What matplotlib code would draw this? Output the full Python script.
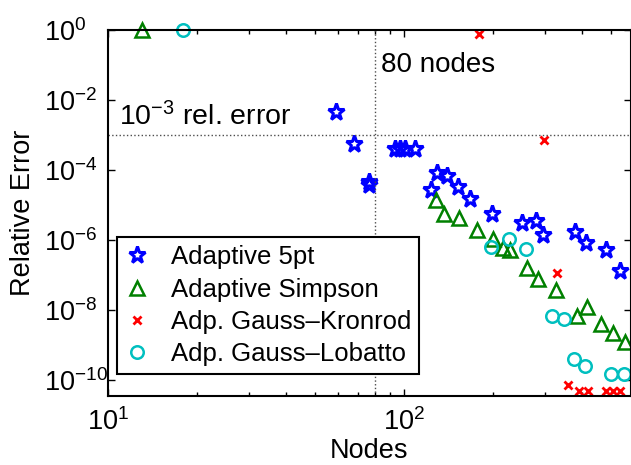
import matplotlib
matplotlib.use("Agg")
from matplotlib import pyplot as plt
from matplotlib.ticker import LogLocator, NullLocator, NullFormatter

plt.rcParams['font.family'] = ['Liberation Sans', 'DejaVu Sans']
plt.rcParams['mathtext.fontset'] = 'custom'
plt.rcParams['mathtext.rm'] = 'Liberation Sans'
plt.rcParams['mathtext.default'] = 'regular'

# values
star_x = [58.9, 67.9, 76, 76.5, 93.3, 96.9, 100.8, 108.9, 123.3, 128.9, 139.3, 152.5, 167,
          197.8, 249.8, 279.4, 294, 378.5, 412, 481, 537]
star_y = [4.5e-3, 5.4e-4, 3.6e-5, 4.4e-5, 3.85e-4, 3.85e-4, 3.85e-4, 3.85e-4, 2.7e-5, 8.3e-5,
          6.5e-5, 3.2e-5, 1.44e-5, 5.4e-6, 3.0e-6, 3.5e-6, 1.35e-6, 1.67e-6, 8.3e-7, 5.0e-7, 1.29e-7]

simp_x = [13.0, 128, 136.5, 153, 177, 200.3, 216.5, 228, 261, 284.5, 326.5, 383, 416, 465, 509, 558]
simp_y = [1.0, 1.35e-5, 5.6e-6, 4.1e-6, 1.95e-6, 1.08e-6, 6.0e-7, 5.0e-7, 1.6e-7, 7.8e-8,
          3.6e-8, 6.5e-9, 1.2e-8, 3.9e-9, 2.1e-9, 1.2e-9]

kron_x = [179.5, 297.8, 329.7, 359, 391, 419.5, 480, 507, 537]
kron_y = [0.74, 7.0e-4, 1.12e-7, 6.9e-11, 4.8e-11, 4.8e-11, 4.8e-11, 4.8e-11, 4.8e-11]

lob_x = [17.9, 196.4, 227, 258, 317.5, 347, 376, 408, 499, 553]
lob_y = [1.0, 6.2e-7, 1.02e-6, 5.6e-7, 6.5e-9, 5.4e-9, 3.9e-10, 2.5e-10, 1.5e-10, 1.44e-10]

labels = ['Adaptive 5pt', 'Adaptive Simpson', 'Adp. Gauss\u2013Kronrod', 'Adp. Gauss\u2013Lobatto']

fig = plt.figure(figsize=(6.31, 4.65), dpi=100)
ax = fig.add_axes([0.171, 0.148, 0.829, 0.788])

ax.plot(star_x, star_y, '*', ms=12.5, mfc='none', mec='b', mew=2.2, clip_on=False, label=labels[0])
ax.plot(simp_x, simp_y, '^', ms=10, mfc='none', mec=(0, 0.5, 0), mew=1.8, clip_on=False, label=labels[1])
ax.plot(kron_x, kron_y, 'x', ms=5.5, mec='r', mew=2, clip_on=False, label=labels[2])
ax.plot(lob_x, lob_y, 'o', ms=9, mfc='none', mec=(0, 0.75, 0.75), mew=1.8, clip_on=False, label=labels[3])

ax.axvline(80, color='0.3', ls=':', lw=1)
ax.axhline(1e-3, color='0.3', ls=':', lw=1)
ax.text(83.5, 1e-1, '80 nodes', fontsize=20, va='center')
ax.text(10.9, 3.2e-3, r'$10^{-3}$ rel. error', fontsize=20.5, va='center')

ax.set_xscale('log')
ax.set_yscale('log')
ax.set_xlim(10, 585)
ax.set_ylim(10 ** -10.47, 1)
ax.yaxis.set_major_locator(LogLocator(base=100))
ax.yaxis.set_minor_locator(NullLocator())
ax.xaxis.set_minor_locator(LogLocator(base=10, subs=range(2, 10)))
ax.xaxis.set_minor_formatter(NullFormatter())
ax.tick_params(which='both', direction='in', top=True, right=True, labelsize=19.5)
ax.tick_params(which='major', length=5, width=1)
ax.tick_params(which='minor', length=3, width=1)
ax.tick_params(axis='x', pad=9)
# MATLAB style: y labels line up on the "10", exponents stick out to the right
ax.tick_params(axis='y', pad=46)
for lbl in ax.get_yticklabels():
    lbl.set_horizontalalignment('left')
for s in ax.spines.values():
    s.set_linewidth(1.5)

ax.set_xlabel('Nodes', fontsize=19.5, labelpad=1)
ax.set_ylabel('Relative Error', fontsize=19.5, labelpad=6)

leg = ax.legend(loc='lower left', bbox_to_anchor=(0.017, 0.06), borderaxespad=0, numpoints=1,
                fontsize=18.5, fancybox=False, framealpha=1, edgecolor='k', labelspacing=0.33,
                handlelength=1.0, handletextpad=0.8, borderpad=0.3)
leg.get_frame().set_linewidth(1.5)

fig.savefig('out.png', dpi=100)
